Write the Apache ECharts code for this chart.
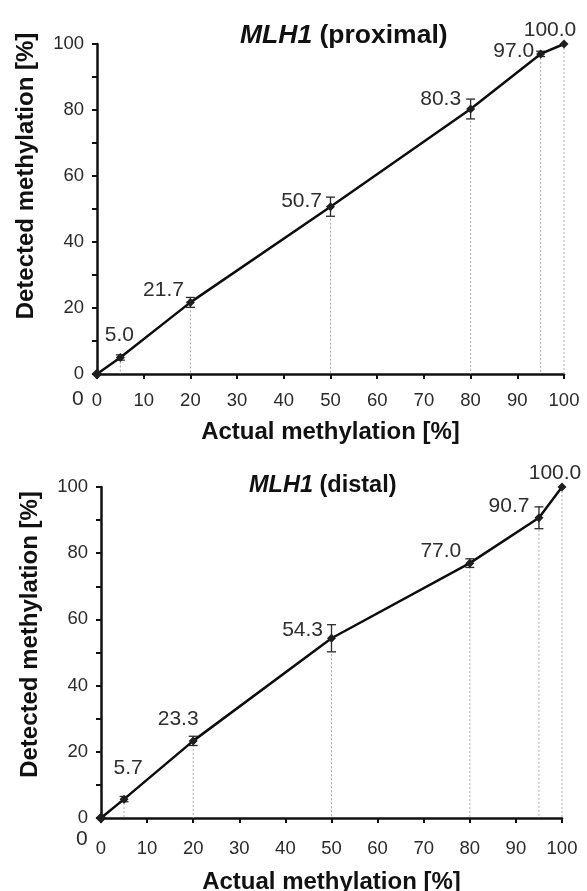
<!DOCTYPE html>
<html>
<head>
<meta charset="utf-8">
<script src="https://cdn.jsdelivr.net/npm/echarts@6/dist/echarts.min.js"></script>
<style>html,body{margin:0;padding:0;background:#fff;}#c{width:587px;height:891px;}</style>
</head>
<body>
<div id="c"></div>
<script>
// ---- data ----
const actualX = [0, 5, 20, 50, 80, 95, 100];
const proximalY = [0, 5.0, 21.7, 50.7, 80.3, 97.0, 100.0];
const proximalErr = [0, 0.8, 1.5, 2.9, 3.0, 0.8, 0];
const distalY = [0, 5.7, 23.3, 54.3, 77.0, 90.7, 100.0];
const distalErr = [0, 0.8, 1.4, 4.1, 1.3, 3.3, 0];
const titles = [['MLH1', ' (proximal)'], ['MLH1', ' (distal)']];
const xName = 'Actual methylation [%]';
const yName = 'Detected methylation [%]';

// ---- label placement (style) ----
const proxLabelPlace = [null, ['top', -1, 3, 10], ['left', 3, -12, 5], ['left', 4, -5, 8], ['left', 4, -10, 9], ['left', 4, -3, 6], ['top', -14, 6, 5]];
const distLabelPlace = [null, ['top', 4, 4, 20], ['top', -15, 5, 12], ['left', 4, -8, 8], ['left', 4, -12, 8], ['left', 4, -12, 9], ['top', -7, 6, 5]];

const FONT = 'Liberation Sans, Arial, Helvetica, sans-serif';
const chart = echarts.init(document.getElementById('c'));

function pts(ys) { return actualX.map((x, i) => [x, ys[i]]); }

function lineData(ys, places) {
  return actualX.map((x, i) => {
    const p = places[i];
    const item = { value: [x, ys[i]] };
    if (!p) {
      item.label = { show: false };
      item.symbolSize = 11;
    } else {
      item.label = { show: true, position: p[0], offset: [p[1], p[2]], distance: p[3] };
    }
    return item;
  });
}

function errData(ys, es) { return actualX.map((x, i) => [x, ys[i], es[i]]); }

function errRender(params, api) {
  const x = api.value(0), y = api.value(1), e = api.value(2);
  if (!e) return null;
  const hi = api.coord([x, y + e]);
  const lo = api.coord([x, y - e]);
  const w = 4.5;
  const st = { stroke: '#2a2a2a', lineWidth: 1.3 };
  return {
    type: 'group',
    children: [
      { type: 'line', shape: { x1: hi[0], y1: hi[1], x2: lo[0], y2: lo[1] }, style: st },
      { type: 'line', shape: { x1: hi[0] - w, y1: hi[1], x2: hi[0] + w, y2: hi[1] }, style: st },
      { type: 'line', shape: { x1: lo[0] - w, y1: lo[1], x2: lo[0] + w, y2: lo[1] }, style: st }
    ]
  };
}

function dropRender(params, api) {
  const x = api.value(0), y = api.value(1);
  if (x === 0) return null;
  const a = api.coord([x, y]);
  const b = api.coord([x, 0]);
  return {
    type: 'line',
    shape: { x1: a[0], y1: a[1], x2: b[0], y2: b[1] },
    style: { stroke: '#ababab', lineWidth: 1, lineDash: [2, 2] }
  };
}

function makeX(idx, labelMargin, nameGap) {
  return {
    gridIndex: idx, type: 'value', min: 0, max: 100, interval: 10,
    name: xName, nameLocation: 'middle', nameGap: nameGap,
    nameTextStyle: { fontFamily: FONT, fontSize: 24, fontWeight: 'bold', color: '#111' },
    axisLine: { onZero: false, lineStyle: { color: '#111', width: 2.5 } },
    axisTick: { show: true, inside: false, length: 5, lineStyle: { color: '#111', width: 2 } },
    axisLabel: { fontFamily: FONT, fontSize: 18.5, color: '#2a2a2a', margin: labelMargin },
    splitLine: { show: false }
  };
}
function makeY(idx, shift) {
  return {
    gridIndex: idx, type: 'value', min: 0, max: 100, interval: 10,
    name: yName, nameLocation: 'middle', nameGap: 59, nameRotate: 90,
    nameTextStyle: { fontFamily: FONT, fontSize: 24, fontWeight: 'bold', color: '#111',
      padding: [0, 0, 0, shift] },
    axisLine: { show: true, lineStyle: { color: '#111', width: 2.5 } },
    axisTick: { show: true, inside: false, length: 5, lineStyle: { color: '#111', width: 2 } },
    axisLabel: { fontFamily: FONT, fontSize: 18.5, color: '#2a2a2a', margin: 13,
      formatter: v => (v % 20 === 0 ? String(v) : '') },
    splitLine: { show: false }
  };
}

function seriesFor(idx, ys, es, places) {
  return [
    { type: 'custom', xAxisIndex: idx, yAxisIndex: idx, data: pts(ys), renderItem: dropRender, z: 1, silent: true },
    { type: 'custom', xAxisIndex: idx, yAxisIndex: idx, data: errData(ys, es), renderItem: errRender, z: 3, silent: true,
      encode: { x: 0, y: 1 } },
    { type: 'line', xAxisIndex: idx, yAxisIndex: idx, data: lineData(ys, places),
      symbol: 'diamond', symbolSize: 9, z: 4,
      lineStyle: { color: '#0d0d0d', width: 2.5 },
      itemStyle: { color: '#1e1e1e' },
      label: { fontFamily: FONT, fontSize: 21, color: '#2e2e2e', formatter: p => p.value[1].toFixed(1) } }
  ];
}

function titleFor(t, left, top, size) {
  return {
    text: '{i|' + t[0] + '}{b|' + t[1] + '}',
    left: left, top: top,
    textStyle: {
      rich: {
        i: { fontFamily: FONT, fontSize: size, fontWeight: 'bold', fontStyle: 'italic', color: '#111' },
        b: { fontFamily: FONT, fontSize: size, fontWeight: 'bold', color: '#111' }
      }
    }
  };
}

chart.setOption({
  backgroundColor: '#fff',
  animation: false,
  title: [titleFor(titles[0], 235, 17, 26.5), titleFor(titles[1], 244, 469, 23.5)],
  grid: [
    { left: 97, right: 23, top: 44, height: 330, containLabel: false, outerBoundsMode: 'none' },
    { left: 101, right: 25, top: 487, height: 331, containLabel: false, outerBoundsMode: 'none' }
  ],
  xAxis: [makeX(0, 17, 46), makeX(1, 21, 52)],
  yAxis: [makeY(0, 66), makeY(1, 36)],
  graphic: [
    { type: 'text', left: 72, top: 389, style: { text: '0', font: '21px ' + FONT, fill: '#2a2a2a' } },
    { type: 'text', left: 76, top: 829, style: { text: '0', font: '21px ' + FONT, fill: '#2a2a2a' } }
  ],
  series: [].concat(
    seriesFor(0, proximalY, proximalErr, proxLabelPlace),
    seriesFor(1, distalY, distalErr, distLabelPlace)
  )
});
</script>
</body>
</html>
